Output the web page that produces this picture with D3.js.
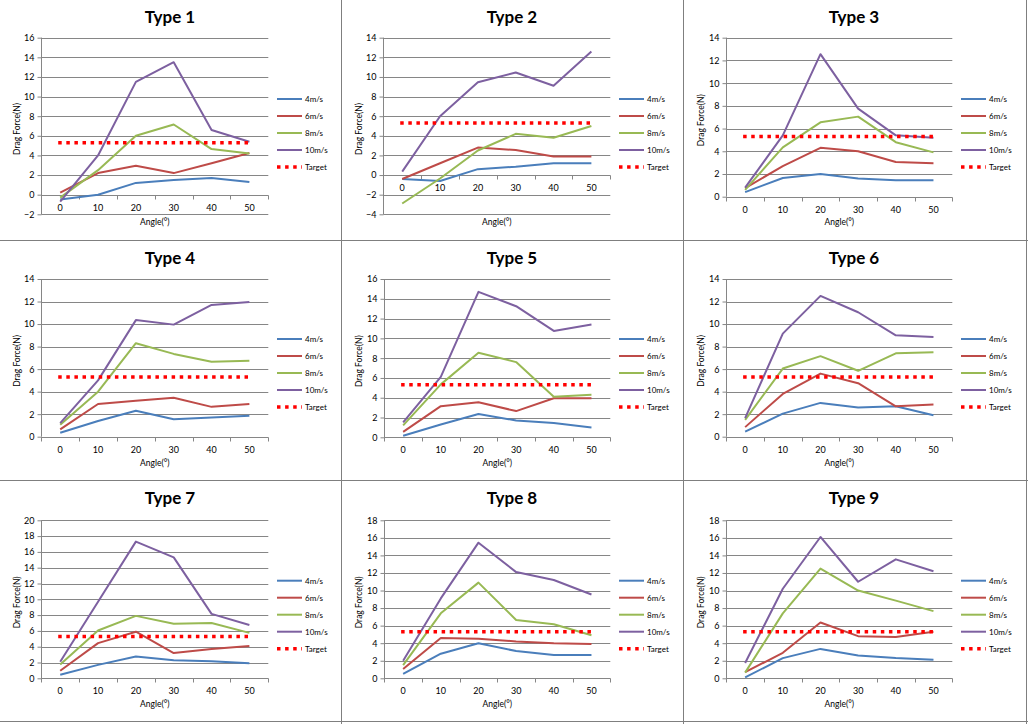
<!DOCTYPE html>
<html><head><meta charset="utf-8">
<script src="https://cdn.jsdelivr.net/npm/d3@7"></script>
<style>
body{margin:0;background:#fff;}
svg{display:block;font-family:Lato,"Open Sans",sans-serif;}
</style></head>
<body><svg id="c" width="1028" height="724"></svg>
<script>
const angles = ["0","10","20","30","40","50"];
const seriesNames = ["4m/s","6m/s","8m/s","10m/s"];
const targetValue = 5.3;
const titles = ["Type 1","Type 2","Type 3","Type 4","Type 5","Type 6","Type 7","Type 8","Type 9"];
const yMins = [-2,-4,0,0,0,0,0,0,0];
const yMaxs = [16,14,14,14,16,14,20,18,18];

const type1 = [[-0.5,0.0,1.2,1.5,1.7,1.3],[0.2,2.2,2.95,2.2,3.2,4.25],[-0.3,2.5,6.0,7.15,4.65,4.2],[-0.7,4.0,11.5,13.5,6.6,5.4]];
const type2 = [[-0.4,-0.6,0.6,0.85,1.2,1.2],[-0.4,1.2,2.8,2.55,1.9,1.9],[-2.9,-0.35,2.5,4.2,3.8,5.0],[0.35,6.0,9.45,10.45,9.1,12.6]];
const type3 = [[0.4,1.65,2.0,1.6,1.45,1.45],[0.75,2.7,4.3,4.0,3.05,2.95],[0.6,4.35,6.55,7.05,4.8,3.9],[0.8,5.4,12.55,7.75,5.4,5.2]];
const type4 = [[0.35,1.4,2.3,1.55,1.7,1.85],[0.65,2.9,3.2,3.45,2.65,2.9],[1.05,4.0,8.3,7.35,6.65,6.75],[1.2,5.0,10.35,9.95,11.7,11.95]];
const type5 = [[0.15,1.3,2.35,1.7,1.45,1.0],[0.55,3.15,3.55,2.65,3.95,3.95],[1.2,5.35,8.55,7.6,4.1,4.3],[1.5,6.1,14.7,13.25,10.75,11.4]];
const type6 = [[0.45,2.05,3.0,2.6,2.7,1.9],[0.85,3.8,5.6,4.75,2.7,2.85],[1.5,6.05,7.15,5.85,7.4,7.5],[1.65,9.15,12.5,11.05,9.0,8.85]];
const type7 = [[0.45,1.7,2.75,2.3,2.15,1.9],[0.95,4.45,5.9,3.2,3.7,4.1],[1.75,6.05,7.9,6.9,7.0,5.75],[2.1,9.7,17.3,15.3,8.15,6.75]];
const type8 = [[0.5,2.8,4.0,3.1,2.65,2.65],[1.05,4.6,4.5,4.2,4.0,3.9],[1.5,7.4,10.9,6.65,6.15,4.9],[2.0,9.1,15.45,12.1,11.2,9.55]];
const type9 = [[0.1,2.3,3.35,2.6,2.3,2.1],[0.7,2.9,6.35,4.8,4.7,5.3],[0.65,7.4,12.5,10.0,8.85,7.65],[1.75,10.2,16.1,11.0,13.55,12.2]];
const allTypes = [type1,type2,type3,type4,type5,type6,type7,type8,type9];

const colors = ["#4A7EBB","#BE4B48","#98B954","#7D60A0"];
const targetColor = "#FF0000";
const gridColor = "#868686";

// layout
const colX = [0,342,684], rowY = [0,240,480];
const plotTop = [37.7,37.7,37.7,39,39,39,40.3,40.3,40.3];
const plotBottom = [214.3,214.3,196.7,196.7,197.3,196.7,198.3,198.3,198.3];
const plotLeft = [41.3,41.3,42.3,41.3,42.3,42.3,41.3,42.3,42.3];
const plotRight = 268.3;

const svg = d3.select("#c");

allTypes.forEach((data,i)=>{
  const r = Math.floor(i/3), c = i%3;
  const g = svg.append("g").attr("transform",`translate(${colX[c]},${rowY[r]})`);
  const x = d3.scaleBand().domain(angles).range([plotLeft[i],plotRight]).padding(0);
  const y = d3.scaleLinear().domain([yMins[i],yMaxs[i]]).range([plotBottom[i],plotTop[i]]);
  const cx = d => x(d)+x.bandwidth()/2;
  const ticks = d3.range(yMins[i], yMaxs[i]+0.001, 2);

  // title
  g.append("text").attr("x",170).attr("y",r===0?23:24).attr("text-anchor","middle")
    .attr("font-size",17).attr("font-weight","bold").attr("fill","#000").text(titles[i]);

  // gridlines
  g.append("g").selectAll("line").data(ticks).join("line")
    .attr("x1",plotLeft[i]).attr("x2",plotRight)
    .attr("y1",d=>Math.round(y(d))+0.5).attr("y2",d=>Math.round(y(d))+0.5)
    .attr("stroke",gridColor).attr("stroke-width",1);

  // y axis
  const ya = g.append("g").attr("transform",`translate(${Math.round(plotLeft[i])+0.5},0)`)
    .call(d3.axisLeft(y).tickValues(ticks).tickSize(4).tickPadding(3).tickFormat(d3.format("d")));
  ya.select(".domain").attr("stroke",gridColor).attr("d",`M-0,${y(yMaxs[i])}V${y(yMins[i])}`);
  ya.selectAll(".tick line").attr("stroke",gridColor);
  ya.selectAll(".tick text").attr("font-size",9).attr("fill","#000").attr("font-family","Lato,sans-serif");

  // x axis at y=0
  const y0 = Math.round(y(0))+0.5;
  const xa = g.append("g").attr("transform",`translate(0,${y0})`);
  xa.append("line").attr("x1",plotLeft[i]).attr("x2",plotRight).attr("stroke",gridColor);
  const bounds = angles.map(a=>x(a)).concat([plotRight]);
  xa.selectAll("line.t").data(bounds).join("line").attr("class","t")
    .attr("x1",d=>Math.round(d)+0.5).attr("x2",d=>Math.round(d)+0.5).attr("y1",0).attr("y2",4)
    .attr("stroke",gridColor);
  xa.selectAll("text").data(angles).join("text")
    .attr("x",d=>cx(d)).attr("y",12).attr("dy","0.35em").attr("text-anchor","middle")
    .attr("font-size",9).attr("fill","#000").text(d=>d);

  // axis titles
  g.append("text").attr("transform",`translate(17,${(plotTop[i]+plotBottom[i])/2+3}) rotate(-90)`)
    .attr("text-anchor","middle").attr("dy","0.35em").attr("font-size",8.5).attr("fill","#000").text("Drag Force(N)");
  g.append("text").attr("x",(plotLeft[i]+plotRight)/2).attr("y",[222,222.7,224][r]).attr("dy","0.35em")
    .attr("text-anchor","middle").attr("font-size",8.5).attr("fill","#000").text("Angle(°)");

  // series
  const line = d3.line().x((d,k)=>cx(angles[k])).y(d=>y(d));
  data.forEach((s,k)=>{
    g.append("path").attr("d",line(s)).attr("fill","none").attr("stroke",colors[k])
      .attr("stroke-width",2).attr("stroke-linejoin","round");
  });
  // target
  g.append("line").attr("x1",cx(angles[0])-2).attr("x2",cx(angles[angles.length-1])+2)
    .attr("y1",y(targetValue)).attr("y2",y(targetValue))
    .attr("stroke",targetColor).attr("stroke-width",3.5).attr("stroke-dasharray","3.5,4.6");

  // legend
  const ly0 = r===2 ? 100.7 : 99;
  const names = seriesNames.concat(["Target"]);
  names.forEach((n,k)=>{
    const ly = ly0 + k*17;
    if(k<4){
      g.append("line").attr("x1",277).attr("x2",302).attr("y1",ly).attr("y2",ly)
        .attr("stroke",colors[k]).attr("stroke-width",2);
    } else {
      g.append("line").attr("x1",277).attr("x2",302).attr("y1",ly).attr("y2",ly)
        .attr("stroke",targetColor).attr("stroke-width",3.5).attr("stroke-dasharray","3.5,4.6");
    }
    g.append("text").attr("x",305).attr("y",ly).attr("dy","0.35em").attr("font-size",8)
      .attr("fill","#000").text(n);
  });
});

// panel borders
const bc = "#7f7f7f";
[341.5,683.5].forEach(xv=>svg.append("line").attr("x1",xv).attr("x2",xv).attr("y1",0).attr("y2",724).attr("stroke",bc));
[240.5,480.5].forEach(yv=>svg.append("line").attr("x1",0).attr("x2",1028).attr("y1",yv).attr("y2",yv).attr("stroke",bc));
svg.append("line").attr("x1",0).attr("x2",1028).attr("y1",721.5).attr("y2",721.5).attr("stroke",bc);
svg.append("line").attr("x1",1026.5).attr("x2",1026.5).attr("y1",0).attr("y2",724).attr("stroke",bc);
</script></body></html>
